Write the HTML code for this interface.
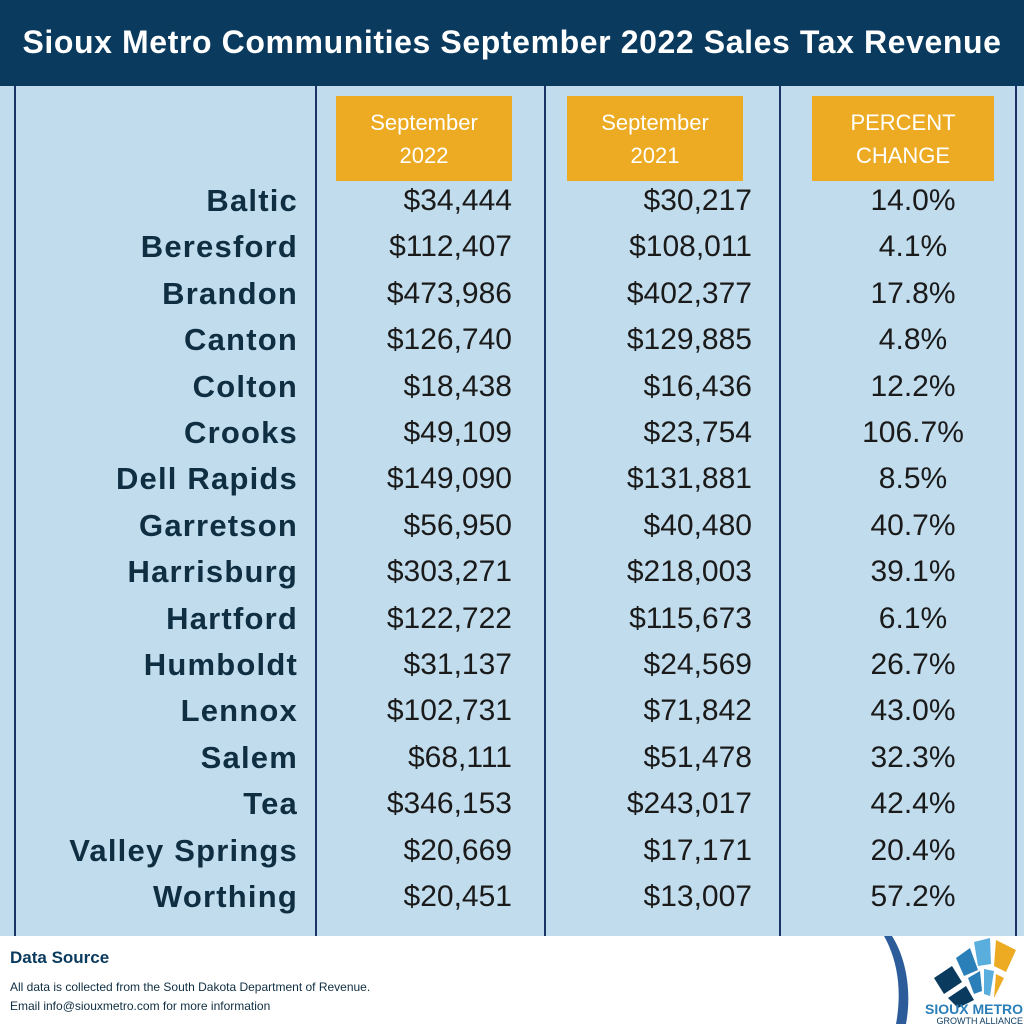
<!DOCTYPE html>
<html><head><meta charset="utf-8"><style>
*{margin:0;padding:0;box-sizing:border-box}
body{width:1024px;height:1024px;position:relative;background:#fff;font-family:"Liberation Sans",sans-serif;overflow:hidden}
.hdr{position:absolute;left:0;top:0;width:1024px;height:86px;background:#0a3a5e;color:#fff;font-weight:bold;font-size:32px;text-align:center;line-height:84px;letter-spacing:0.6px}
.panel{position:absolute;left:0;top:86px;width:1024px;height:850px;background:#c1dcec}
.vl{position:absolute;top:86px;height:850px;width:2px;background:#1a3468}
.ob{position:absolute;top:96px;height:85px;background:#ecab22;color:#fff;font-size:22px;text-align:center;line-height:33px;padding-top:10px}
.r{position:absolute;height:40px;line-height:40px;font-size:30px;white-space:nowrap}
.n{right:726px;text-align:right;font-weight:bold;color:#0f2e42;font-size:31px;letter-spacing:1.2px}
.a{right:512px;text-align:right;color:#1a1a1a}
.b{right:272px;text-align:right;color:#1a1a1a}
.c{left:813px;width:200px;text-align:center;color:#1a1a1a}
.ds{position:absolute;left:10px;top:948px;font-size:17px;font-weight:bold;color:#0a3a5e}
.ft{position:absolute;left:10px;font-size:12px;color:#0f2e42}
</style></head><body>
<div class="hdr">Sioux Metro Communities September 2022 Sales Tax Revenue</div>
<div class="panel"></div>
<div class="vl" style="left:14px"></div>
<div class="vl" style="left:315px"></div>
<div class="vl" style="left:544px"></div>
<div class="vl" style="left:779px"></div>
<div class="vl" style="left:1015px"></div>
<div class="ob" style="left:336px;width:176px">September<br>2022</div>
<div class="ob" style="left:567px;width:176px">September<br>2021</div>
<div class="ob" style="left:812px;width:182px">PERCENT<br>CHANGE</div>
<div id="rows"></div>
<div class="ds">Data Source</div>
<div class="ft" style="top:980px">All data is collected from the South Dakota Department of Revenue.</div>
<div class="ft" style="top:999px">Email info@siouxmetro.com for more information</div>
<svg style="position:absolute;left:870px;top:936px" width="154" height="88" viewBox="0 0 154 88">
<path d="M14 0 C28 25 32 55 26 88 L36 88 C42 55 36 22 22 0Z" fill="#2c5d9a"/>
<path d="M64 42 L82 30 L92 46 L74 58Z" fill="#0a3a5e"/>
<path d="M86 22 L100 12 L108 34 L94 40Z" fill="#2a7fb8"/>
<path d="M104 6 L120 2 L121 28 L108 30Z" fill="#5aaede"/>
<path d="M126 4 L146 14 L136 36 L124 30Z" fill="#ecab22"/>
<path d="M78 62 L96 50 L104 64 L88 72Z" fill="#0a3a5e"/>
<path d="M98 42 L110 35 L112 55 L104 58Z" fill="#2a7fb8"/>
<path d="M114 33 L124 35 L120 60 L114 58Z" fill="#5aaede"/>
<path d="M126 38 L134 42 L124 62Z" fill="#ecab22"/>
<text x="153" y="78" text-anchor="end" font-family="Liberation Sans" font-weight="bold" font-size="14" fill="#2a7fb8">SIOUX METRO</text>
<text x="153" y="88" text-anchor="end" font-family="Liberation Sans" font-size="9" fill="#0a3a5e">GROWTH ALLIANCE</text>
</svg>
<script>
var d=[["Baltic","$34,444","$30,217","14.0%"],["Beresford","$112,407","$108,011","4.1%"],["Brandon","$473,986","$402,377","17.8%"],["Canton","$126,740","$129,885","4.8%"],["Colton","$18,438","$16,436","12.2%"],["Crooks","$49,109","$23,754","106.7%"],["Dell Rapids","$149,090","$131,881","8.5%"],["Garretson","$56,950","$40,480","40.7%"],["Harrisburg","$303,271","$218,003","39.1%"],["Hartford","$122,722","$115,673","6.1%"],["Humboldt","$31,137","$24,569","26.7%"],["Lennox","$102,731","$71,842","43.0%"],["Salem","$68,111","$51,478","32.3%"],["Tea","$346,153","$243,017","42.4%"],["Valley Springs","$20,669","$17,171","20.4%"],["Worthing","$20,451","$13,007","57.2%"]];
var h="";d.forEach(function(r,i){var t=181+i*46.4;
h+='<div class="r n" style="top:'+t+'px">'+r[0]+'</div><div class="r a" style="top:'+t+'px">'+r[1]+'</div><div class="r b" style="top:'+t+'px">'+r[2]+'</div><div class="r c" style="top:'+t+'px">'+r[3]+'</div>';});
document.getElementById("rows").innerHTML=h;
</script>
</body></html>
